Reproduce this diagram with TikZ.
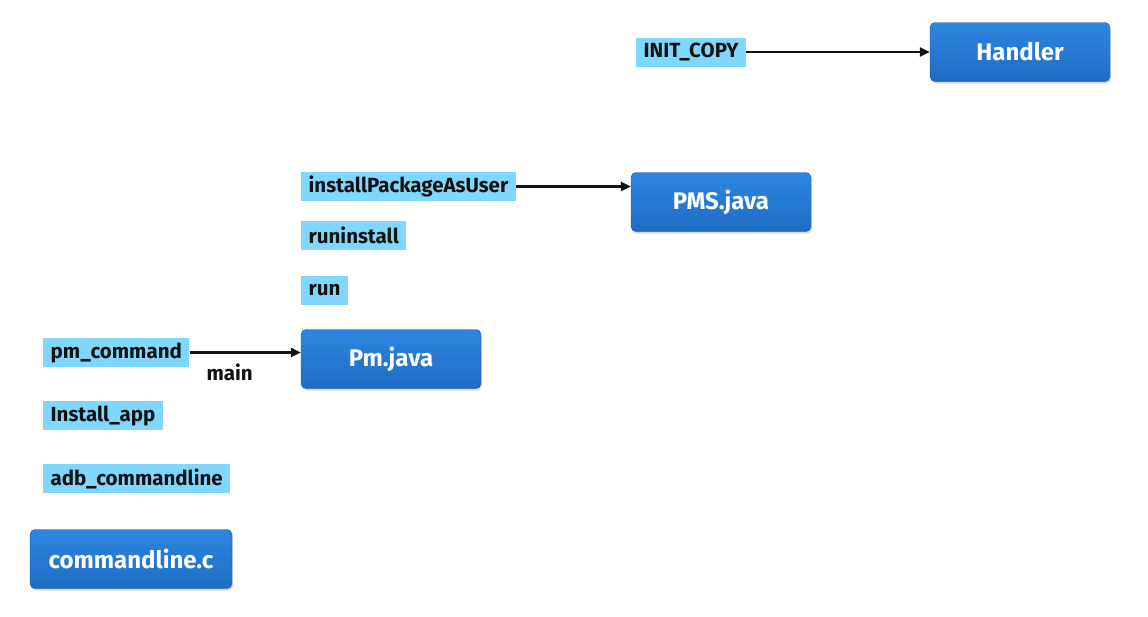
\documentclass[tikz,border=0pt]{standalone}
\usepackage{fontspec}
\setmainfont{Fira Sans}
\usetikzlibrary{shadows,arrows.meta}
\definecolor{boxtop}{HTML}{2E86E0}
\definecolor{boxbot}{HTML}{1E6CC4}
\definecolor{lbl}{HTML}{7FD7FD}
\definecolor{txt}{HTML}{111111}
\tikzset{
  bluebox/.style={rectangle, rounded corners=5pt, top color=boxtop, bottom color=boxbot,
    draw=boxbot!80!black, line width=0.4pt, minimum width=180pt, minimum height=59pt,
    text=white, font=\fontsize{24}{26}\selectfont\bfseries,
    drop shadow={shadow xshift=1pt, shadow yshift=-2pt, opacity=0.3}},
  tag/.style={rectangle, fill=lbl, anchor=west, inner xsep=7.5pt, inner ysep=0pt,
    minimum height=29pt, text=txt, font=\fontsize{20.5}{22}\selectfont\bfseries},
  conn/.style={-{Triangle[length=10pt,width=9pt]}, line width=2.4pt, draw=txt},
}
\begin{document}
\begin{tikzpicture}[x=1pt,y=-1pt]
\useasboundingbox (0,0) rectangle (1148,616);
\node[bluebox] (handler) at (1020,52) {Handler};
\node[bluebox] (pms) at (721,202) {PMS.java};
\node[bluebox] (pm) at (391,359) {Pm.java};
\node[bluebox, minimum width=202pt] (cl) at (131,559) {commandline.c};
\node[tag] (init) at (636,52) {INIT\_COPY};
\node[tag] (ipau) at (301,186.5) {installPackageAsUser};
\node[tag] (ri) at (301,235) {runinstall};
\node[tag] (run) at (301,290.5) {run};
\node[tag] (pmc) at (43,352.5) {pm\_command};
\node[tag] (ia) at (43,415.5) {Install\_app};
\node[tag] (adb) at (43,478.5) {adb\_commandline};
\draw[conn] (init.east) -- (handler.west |- init.east);
\draw[conn] (ipau.east) -- (pms.west |- ipau.east);
\draw[conn] (pmc.east) -- node[pos=0.36, below=7pt, font=\fontsize{20.5}{22}\selectfont\bfseries, text=txt] (mainlbl) {main} (pm.west |- pmc.east);
\end{tikzpicture}
\end{document}
